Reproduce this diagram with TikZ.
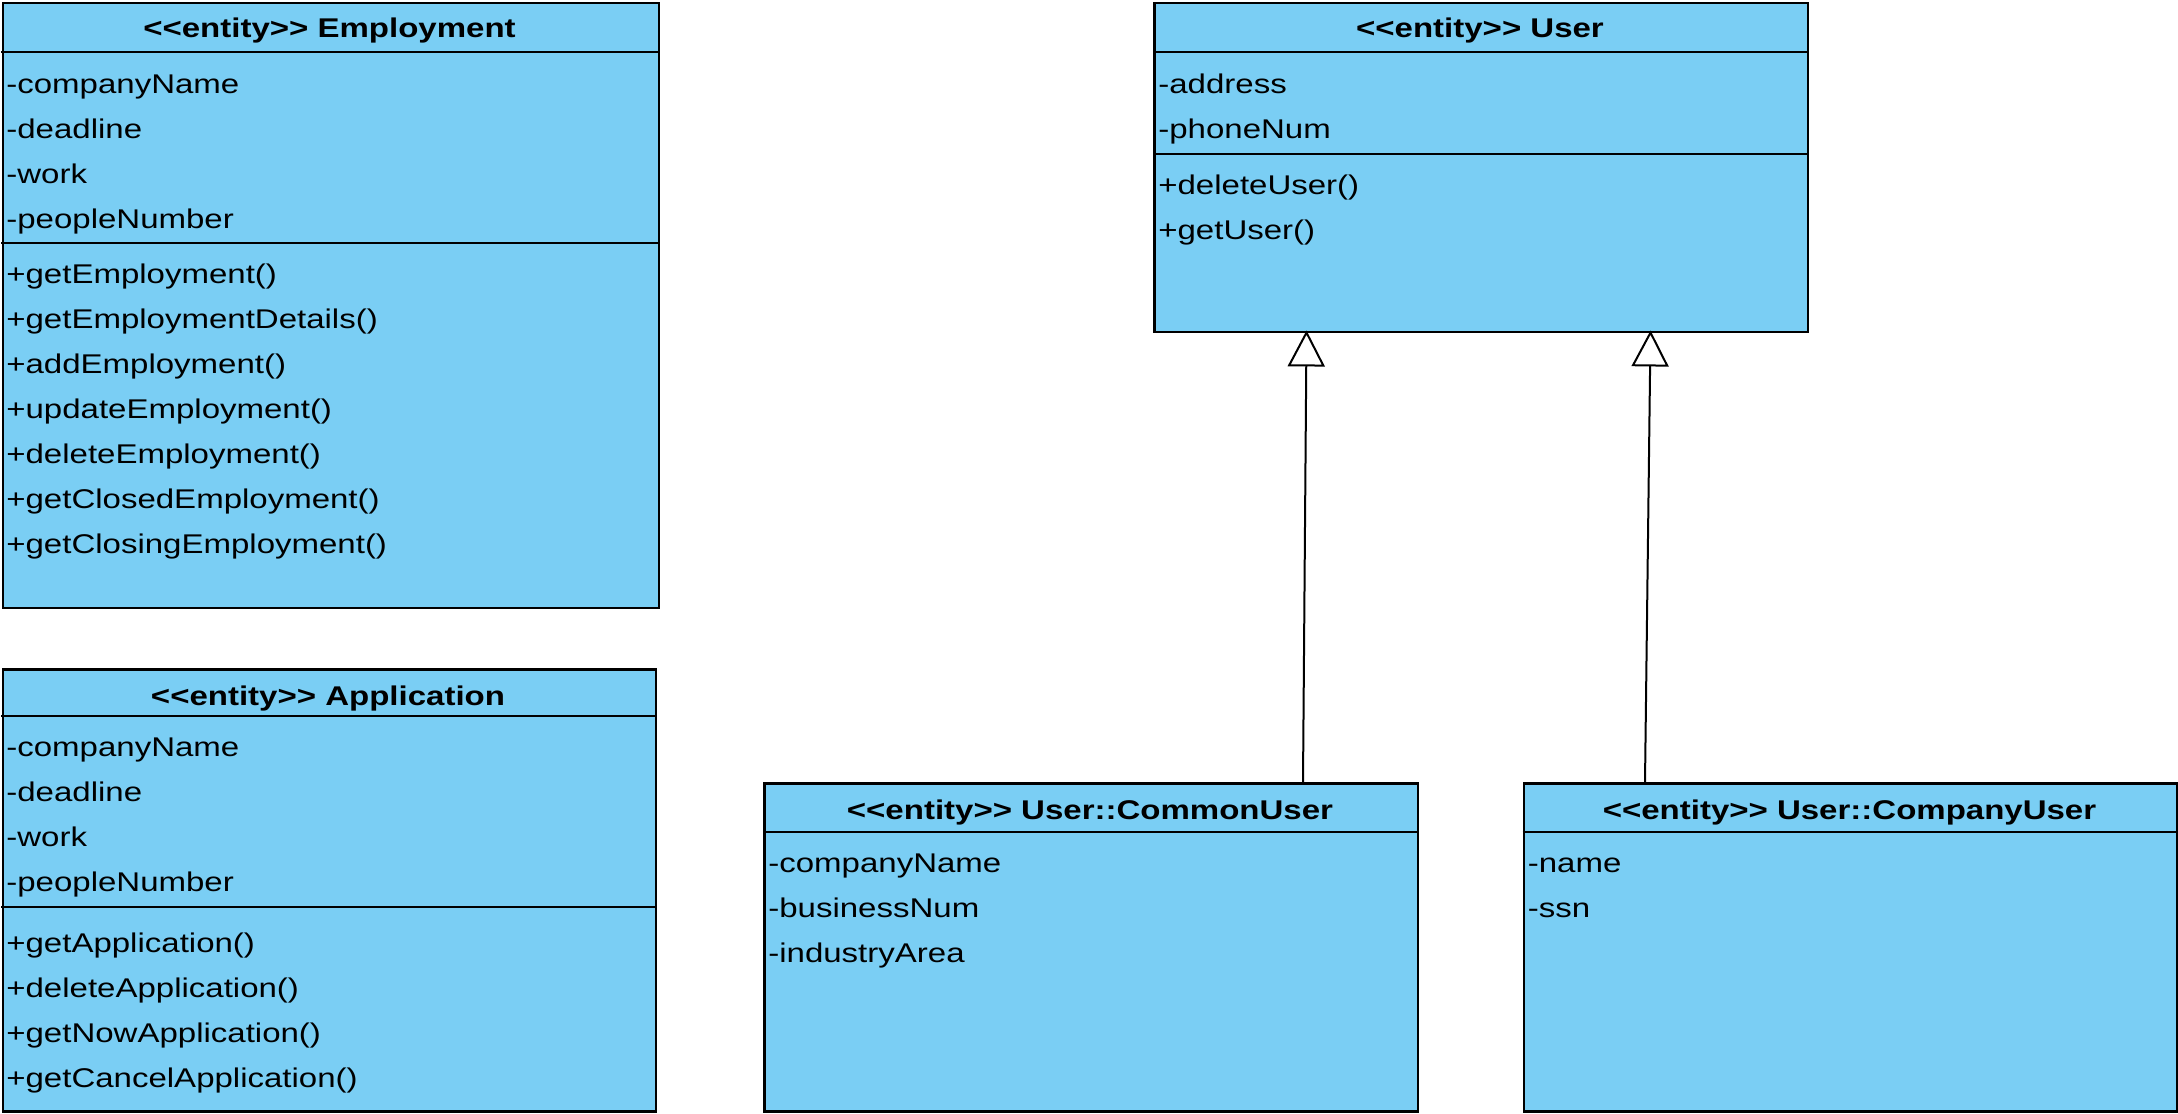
\documentclass[tikz,border=0pt]{standalone}
\usepackage{fontspec}
\setmainfont{Liberation Sans}[FakeStretch=1.22]
\usetikzlibrary{arrows.meta, calc}
\definecolor{cEnt}{HTML}{7ACEF4}
\tikzset{
    cls/.style     ={draw=black, fill=cEnt, line width=0.05cm, anchor=north west,
                     inner sep=0pt},
    divline/.style ={line width=0.05cm, black},
    ttl/.style     ={anchor=base, inner sep=0pt,
                     font=\fontsize{15.4}{18}\selectfont\bfseries},
    mem/.style     ={anchor=base west, inner sep=0pt,
                     font=\fontsize{15.4}{18}\selectfont},
    gen/.style     ={-{Triangle[open, length=0.72cm, width=0.74cm]},
                     line width=0.04cm, black, shorten >=-0.06cm},
}
\newcommand{\ent}{<\kern0pt<entity>\kern0pt>}

\begin{document}
\begin{tikzpicture}[x=0.02cm, y=-0.02cm]
\useasboundingbox (0,0) rectangle (2178,1113);

% ===================== Employment =====================
\node[cls, minimum width=13.13cm, minimum height=12.11cm] (emp) at (1.5,1.5) {};
\draw[divline] ($(emp.north west)+(0,50.5)$) -- ($(emp.north east)+(0,50.5)$);
\draw[divline] ($(emp.north west)+(0,241.5)$) -- ($(emp.north east)+(0,241.5)$);
\node[ttl] (emp-t) at (329.5,37) {\ent{} Employment};
\node[mem] (emp-a1) at (6,93)  {-companyName};
\node[mem] (emp-a2) at (6,138) {-deadline};
\node[mem] (emp-a3) at (6,183) {-work};
\node[mem] (emp-a4) at (6,228) {-peopleNumber};
\node[mem] (emp-o1) at (6,283) {+getEmployment()};
\node[mem] (emp-o2) at (6,328) {+getEmploymentDetails()};
\node[mem] (emp-o3) at (6,373) {+addEmployment()};
\node[mem] (emp-o4) at (6,418) {+updateEmployment()};
\node[mem] (emp-o5) at (6,463) {+deleteEmployment()};
\node[mem] (emp-o6) at (6,508) {+getClosedEmployment()};
\node[mem] (emp-o7) at (6,553) {+getClosingEmployment()};

% ===================== Application =====================
\node[cls, minimum width=13.07cm, minimum height=8.85cm] (app) at (1.5,668) {};
\draw[divline] ($(app.north west)+(0,48)$) -- ($(app.north east)+(0,48)$);
\draw[divline] ($(app.north west)+(0,239)$) -- ($(app.north east)+(0,239)$);
\node[ttl] (app-t) at (328,705) {\ent{} Application};
\node[mem] (app-a1) at (6,756)  {-companyName};
\node[mem] (app-a2) at (6,801)  {-deadline};
\node[mem] (app-a3) at (6,846)  {-work};
\node[mem] (app-a4) at (6,891)  {-peopleNumber};
\node[mem] (app-o1) at (6,952)  {+getApplication()};
\node[mem] (app-o2) at (6,997)  {+deleteApplication()};
\node[mem] (app-o3) at (6,1042) {+getNowApplication()};
\node[mem] (app-o4) at (6,1087) {+getCancelApplication()};

% ===================== User =====================
\node[cls, minimum width=13.08cm, minimum height=6.59cm] (user) at (1153,1.5) {};
\draw[divline] ($(user.north west)+(0,50.5)$) -- ($(user.north east)+(0,50.5)$);
\draw[divline] ($(user.north west)+(0,152.5)$) -- ($(user.north east)+(0,152.5)$);
\node[ttl] (user-t) at (1480,37) {\ent{} User};
\node[mem] (user-a1) at (1158,93)  {-address};
\node[mem] (user-a2) at (1158,138) {-phoneNum};
\node[mem] (user-o1) at (1158,194) {+deleteUser()};
\node[mem] (user-o2) at (1158,239) {+getUser()};

% ===================== User::CommonUser =====================
\node[cls, minimum width=13.08cm, minimum height=6.57cm] (cu) at (763,782) {};
\draw[divline] ($(cu.north west)+(0,50)$) -- ($(cu.north east)+(0,50)$);
\node[ttl] (cu-t) at (1090,819) {\ent{} User::CommonUser};
\node[mem] (cu-a1) at (768,872) {-companyName};
\node[mem] (cu-a2) at (768,917) {-businessNum};
\node[mem] (cu-a3) at (768,962) {-industryArea};

% ===================== User::CompanyUser =====================
\node[cls, minimum width=13.08cm, minimum height=6.57cm] (co) at (1522.5,782) {};
\draw[divline] ($(co.north west)+(0,50)$) -- ($(co.north east)+(0,50)$);
\node[ttl] (co-t) at (1849.5,819) {\ent{} User::CompanyUser};
\node[mem] (co-a1) at (1527.5,872) {-name};
\node[mem] (co-a2) at (1527.5,917) {-ssn};

% ===================== Generalizacion =====================
\draw[gen] ($(cu.north west)+(540,0)$) -- ($(user.south west)+(153.5,0)$);
\draw[gen] ($(co.north west)+(122.5,0)$) -- ($(user.south west)+(497.5,0)$);

\end{tikzpicture}
\end{document}
